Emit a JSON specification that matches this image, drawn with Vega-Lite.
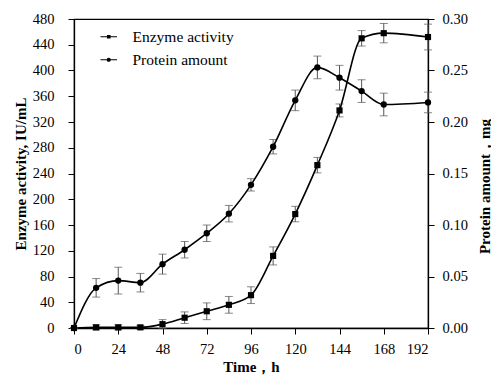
{
  "$schema": "https://vega.github.io/schema/vega-lite/v6.json",
  "autosize": {"type": "none"},
  "padding": {"left": 74, "top": 19, "right": 63, "bottom": 48},
  "width": 354,
  "height": 309,
  "background": "white",
  "config": {
    "font": "Liberation Serif, Times New Roman, serif",
    "view": {"stroke": "black", "strokeWidth": 1.2},
    "axis": {
      "labelFont": "Liberation Serif, Times New Roman, serif",
      "labelFontSize": 14.5,
      "labelColor": "black",
      "titleFont": "Liberation Serif, Times New Roman, serif",
      "titleFontSize": 15,
      "titleFontWeight": "bold",
      "titleColor": "black",
      "domainColor": "black",
      "domainWidth": 1.3,
      "tickColor": "black",
      "tickWidth": 1,
      "tickSize": 6,
      "grid": false
    },
    "legend": {
      "orient": "none",
      "title": null,
      "padding": 0,
      "labelFont": "Liberation Serif, Times New Roman, serif",
      "labelFontSize": 15.5,
      "labelColor": "black",
      "labelOffset": 16,
      "symbolSize": 100,
      "symbolStrokeWidth": 0,
      "symbolFillColor": "black"
    }
  },
  "data": {
    "values": [
      {"t": 0, "enzyme": 0, "enzErr": 0, "protein": 0, "protErr": 0},
      {"t": 12, "enzyme": 1, "enzErr": 4, "protein": 0.039, "protErr": 0.009},
      {"t": 24, "enzyme": 1, "enzErr": 4, "protein": 0.046, "protErr": 0.013},
      {"t": 36, "enzyme": 1, "enzErr": 3, "protein": 0.044, "protErr": 0.009},
      {"t": 48, "enzyme": 6, "enzErr": 7, "protein": 0.062, "protErr": 0.0097},
      {"t": 60, "enzyme": 16, "enzErr": 9, "protein": 0.076, "protErr": 0.008},
      {"t": 72, "enzyme": 26, "enzErr": 13, "protein": 0.092, "protErr": 0.008},
      {"t": 84, "enzyme": 36, "enzErr": 13, "protein": 0.111, "protErr": 0.008},
      {"t": 96, "enzyme": 51, "enzErr": 13, "protein": 0.139, "protErr": 0.006},
      {"t": 108, "enzyme": 112, "enzErr": 14, "protein": 0.176, "protErr": 0.007},
      {"t": 120, "enzyme": 177, "enzErr": 12, "protein": 0.221, "protErr": 0.01},
      {"t": 132, "enzyme": 253, "enzErr": 12, "protein": 0.253, "protErr": 0.011},
      {"t": 144, "enzyme": 338, "enzErr": 10, "protein": 0.243, "protErr": 0.012},
      {"t": 156, "enzyme": 450, "enzErr": 12, "protein": 0.23, "protErr": 0.011},
      {"t": 168, "enzyme": 458, "enzErr": 15, "protein": 0.217, "protErr": 0.011},
      {"t": 192, "enzyme": 452, "enzErr": 20, "protein": 0.219, "protErr": 0.01}
    ]
  },
  "encoding": {
    "x": {
      "field": "t",
      "type": "quantitative",
      "scale": {"domain": [0, 192], "nice": false},
      "axis": {"values": [0, 24, 48, 72, 96, 120, 144, 168, 192], "title": "Time，h", "labelPadding": 8, "titlePadding": 4}
    }
  },
  "layer": [
    {
      "encoding": {
        "y": {
          "field": "enzyme",
          "type": "quantitative",
          "scale": {"domain": [0, 480], "nice": false},
          "axis": {"orient": "left", "values": [0, 40, 80, 120, 160, 200, 240, 280, 320, 360, 400, 440, 480], "title": "Enzyme activity, IU/mL", "labelPadding": 14, "titleX": -54, "titleBaseline": "middle"}
        }
      },
      "layer": [
        {
          "mark": {"type": "errorbar", "ticks": true, "size": 8, "color": "#555", "thickness": 1},
          "encoding": {"yError": {"field": "enzErr"}}
        },
        {
          "mark": {"type": "line", "color": "black", "strokeWidth": 1.6, "interpolate": "monotone"}
        },
        {
          "mark": {"type": "point", "shape": "square", "filled": true, "size": 38, "opacity": 1},
          "encoding": {
            "color": {
              "datum": "Enzyme activity",
              "scale": {"range": ["black"]},
              "legend": {
                "legendX": 27,
                "legendY": 10,
                "symbolType": "M-1.65,-0.09H1.65V0.09H-1.65Z M-0.36,-0.36H0.36V0.36H-0.36Z"
              }
            }
          }
        }
      ]
    },
    {
      "encoding": {
        "y": {
          "field": "protein",
          "type": "quantitative",
          "scale": {"domain": [0, 0.3], "nice": false},
          "axis": {"orient": "right", "values": [0, 0.05, 0.1, 0.15, 0.2, 0.25, 0.3], "format": ".2f", "title": "Protein amount，mg", "labelPadding": 8, "titleAngle": 270, "titleX": 56, "titleY": 167, "titleBaseline": "middle", "titleAlign": "center"}
        }
      },
      "layer": [
        {
          "mark": {"type": "errorbar", "ticks": true, "size": 8, "color": "#555", "thickness": 1},
          "encoding": {"yError": {"field": "protErr"}}
        },
        {
          "mark": {"type": "line", "color": "black", "strokeWidth": 1.6, "interpolate": "monotone"}
        },
        {
          "mark": {"type": "point", "shape": "circle", "filled": true, "size": 40, "opacity": 1},
          "encoding": {
            "fill": {
              "datum": "Protein amount",
              "scale": {"range": ["black"]},
              "legend": {
                "legendX": 27,
                "legendY": 33,
                "symbolType": "M-1.65,-0.09H1.65V0.09H-1.65Z M0.42,0A0.42,0.42,0,1,1,-0.42,0A0.42,0.42,0,1,1,0.42,0Z"
              }
            }
          }
        }
      ]
    }
  ],
  "resolve": {"scale": {"y": "independent"}}
}
